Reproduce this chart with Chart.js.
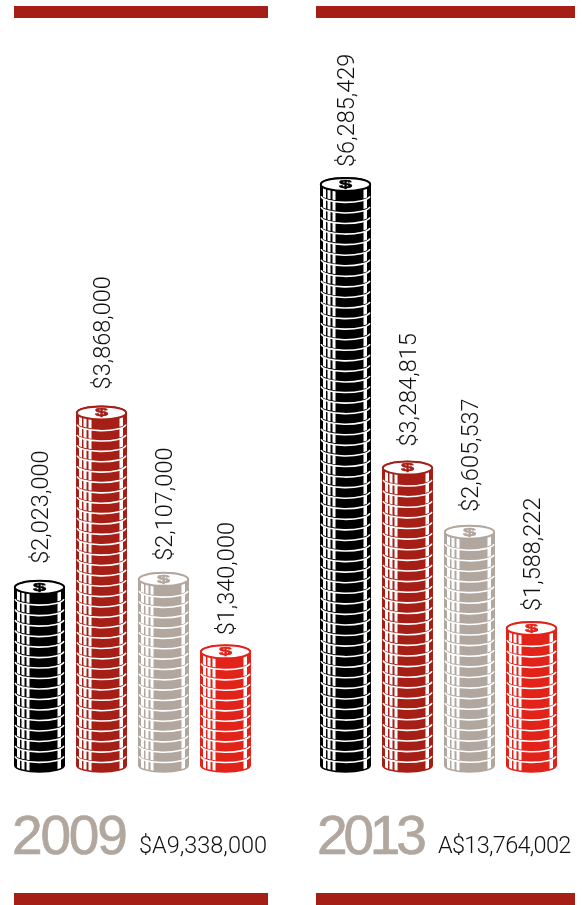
<!DOCTYPE html>
<html><head><meta charset="utf-8">
<style>
html,body{margin:0;padding:0;background:#fff;width:582px;height:905px;overflow:hidden}
.wrap{position:absolute;top:0;width:291px;height:905px}
canvas{display:block}
</style>
<script src="https://cdn.jsdelivr.net/npm/chart.js@4"></script>
</head><body>
<div class="wrap" style="left:0"><canvas id="c1"></canvas></div>
<div class="wrap" style="left:291px"><canvas id="c2"></canvas></div>
<script>
const categories = ['Series 1','Series 2','Series 3','Series 4'];
const values2009 = [2023000,3868000,2107000,1340000];
const values2013 = [6285429,3284815,2605537,1588222];
const tickLabels2009 = ['$2,023,000','$3,868,000','$2,107,000','$1,340,000'];
const tickLabels2013 = ['$6,285,429','$3,284,815','$2,605,537','$1,588,222'];
const labelGaps2009 = [17,17,12,10];
const labelGaps2013 = [11,15,14,11];
const chipColors = ['#000000','#a51f17','#b1a79e','#e2231a'];
const years = ['2009','2013'];
const totals = ['$A9,338,000','A$13,764,002'];

const PITCH = 10.5, RY = 6.5;
const STRIPES = [[3,3],[7.5,3],[12.5,3],[43.5,3.5]];

function sidePath(ctx,cx,rx,top,bottom){
  ctx.beginPath();
  ctx.ellipse(cx,top,rx,RY,0,Math.PI,0,false);
  ctx.lineTo(cx+rx,bottom);
  ctx.ellipse(cx,bottom,rx,RY,0,0,Math.PI,false);
  ctx.closePath();
}
function drawStack(ctx,bar,color){
  const w = bar.width, cx = bar.x, left = cx-w/2, rx = w/2-0.8;
  const yBase = bar.base, yTop = bar.y;
  const span = yBase-yTop-2*RY;
  const n = Math.max(1,Math.round(span/PITCH));
  const p = span/n;
  for(let i=0;i<n;i++){
    const bottom = yBase-RY-i*p, top = bottom-p;
    ctx.save();
    sidePath(ctx,cx,rx,top,bottom);
    ctx.fillStyle=color; ctx.fill();
    ctx.clip();
    ctx.fillStyle='#fff';
    for(const [o,sw] of STRIPES) ctx.fillRect(left+o,top-RY,sw,p+2*RY);
    ctx.restore();
    ctx.strokeStyle=color; ctx.lineWidth=1.6;
    sidePath(ctx,cx,rx,top,bottom); ctx.stroke();
    if(i>0){
      ctx.beginPath();
      ctx.ellipse(cx,bottom+0.9,rx-0.3,RY,0,0.06,Math.PI-0.06,false);
      ctx.strokeStyle='#fff'; ctx.lineWidth=1.6; ctx.stroke();
    }
  }
  const cy = yTop+RY;
  ctx.beginPath(); ctx.ellipse(cx,cy,rx,RY,0,0,Math.PI*2);
  ctx.fillStyle='#fff'; ctx.fill();
  ctx.strokeStyle=color; ctx.lineWidth=2; ctx.stroke();
  ctx.save();
  ctx.translate(cx,cy); ctx.scale(1.3,0.62);
  ctx.fillStyle=color; ctx.font='bold 18px "Liberation Sans"';
  ctx.textAlign='center'; ctx.textBaseline='middle';
  ctx.strokeStyle=color; ctx.lineWidth=0.8;
  ctx.fillText('$',0,0.5); ctx.strokeText('$',0,0.5);
  ctx.restore();
}
const chipPlugin = {
  id:'chips',
  beforeDatasetsDraw(chart){
    const ctx=chart.ctx, meta=chart.getDatasetMeta(0), ds=chart.data.datasets[0];
    meta.data.forEach((bar,i)=>drawStack(ctx,bar,ds.backgroundColor[i]));
    return false;
  },
  afterDraw(chart){
    const ctx=chart.ctx, meta=chart.getDatasetMeta(0), o=chart.options.plugins.chips;
    meta.data.forEach((bar,i)=>{
      ctx.save();
      ctx.translate(bar.x,bar.y-o.gaps[i]);
      ctx.rotate(-Math.PI/2);
      ctx.font='300 23.5px Roboto';
      ctx.fillStyle='#111';
      ctx.textAlign='left'; ctx.textBaseline='middle';
      ctx.fillText(o.labels[i],0,2.5);
      ctx.restore();
    });
    ctx.fillStyle=o.ruleColor;
    ctx.fillRect(o.ruleX,6,o.ruleW,12);
    ctx.fillRect(o.ruleX,893,o.ruleW,12);
    ctx.save();
    ctx.font='55px "Liberation Sans"';
    ctx.letterSpacing=o.yearSpacing;
    ctx.fillStyle='#b1a79e'; ctx.strokeStyle='#b1a79e'; ctx.lineWidth=0.7; ctx.textBaseline='alphabetic';
    ctx.fillText(o.year,o.yearX,854); ctx.strokeText(o.year,o.yearX,854);
    ctx.restore();
    ctx.save();
    ctx.font='300 23.5px Roboto';
    ctx.letterSpacing=o.totalSpacing;
    ctx.fillStyle='#111'; ctx.textBaseline='alphabetic';
    ctx.fillText(o.total,o.totalX,853);
    ctx.restore();
  }
};
function build(id,values,labels,gaps,year,total,pad,rule){
  return new Chart(document.getElementById(id),{
    type:'bar',
    data:{labels:categories,datasets:[{data:values,backgroundColor:chipColors,barPercentage:1,categoryPercentage:51/62}]},
    plugins:[chipPlugin],
    options:{
      responsive:false,animation:false,
      layout:{padding:{left:pad,right:291-pad-248,top:0,bottom:133}},
      scales:{
        x:{display:false,grid:{display:false}},
        y:{display:false,min:0,max:772*10580,grid:{display:false}}
      },
      plugins:{legend:{display:false},tooltip:{enabled:false},title:{display:false},
        chips:{gaps,labels,year,total,yearX:rule.yearX,totalX:rule.totalX,ruleX:rule.x,ruleW:rule.w,ruleColor:'#a51f17',yearSpacing:rule.ys,totalSpacing:rule.ts}}
    }
  });
}
for(const [id,w] of [['c1',291],['c2',291]]){const c=document.getElementById(id);c.width=w;c.height=905;c.style.width=w+'px';c.style.height='905px';}
build('c1',values2009,tickLabels2009,labelGaps2009,years[0],totals[0],8.5,{x:14,w:254,yearX:12,totalX:139,ys:'-2.2px',ts:'0px'});
build('c2',values2013,tickLabels2013,labelGaps2013,years[1],totals[1],23.5,{x:25,w:259,yearX:26,totalX:147,ys:'-4.2px',ts:'-0.7px'});
</script>
</body></html>
